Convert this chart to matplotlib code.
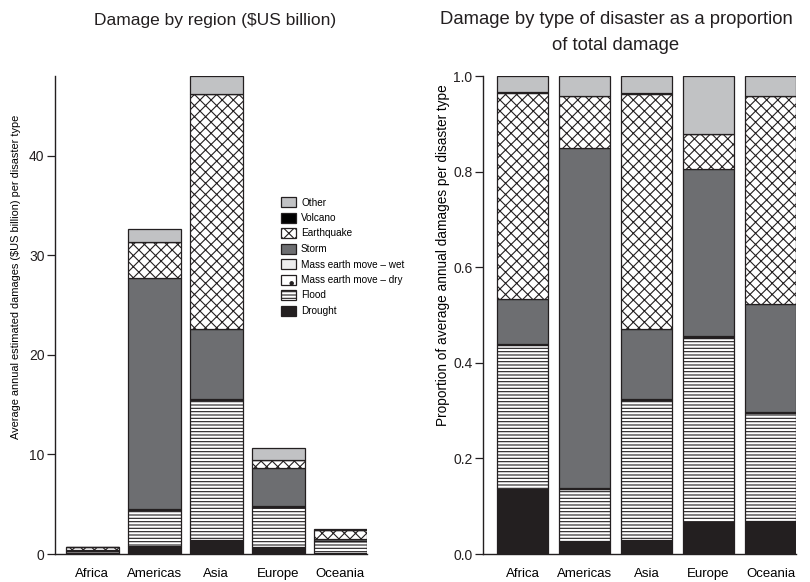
import matplotlib
matplotlib.use("Agg")
import matplotlib.pyplot as plt
import numpy as np

plt.rcParams['font.family'] = ['Liberation Sans', 'DejaVu Sans']
plt.rcParams['hatch.linewidth'] = 0.8

regions = ['Africa', 'Americas', 'Asia', 'Europe', 'Oceania']
types = ['Drought', 'Flood', 'Mass earth move \u2013 dry', 'Mass earth move \u2013 wet',
         'Storm', 'Earthquake', 'Volcano', 'Other']

# Left panel: average annual damages ($US billion)
drought_bn = [0.10, 0.84, 1.41, 0.67, 0.15]
flood_bn = [0.22, 3.60, 14.10, 4.08, 1.15]
massdry_bn = [0.01, 0.02, 0.02, 0.01, 0.01]
masswet_bn = [0.00, 0.05, 0.05, 0.05, 0.00]
storm_bn = [0.07, 23.20, 7.00, 3.80, 0.15]
earthquake_bn = [0.32, 3.60, 23.60, 0.80, 0.99]
volcano_bn = [0.00, 0.00, 0.05, 0.00, 0.00]
other_bn = [0.03, 1.30, 1.77, 1.24, 0.05]

# Right panel: proportion of total damage
drought_p = [0.137, 0.027, 0.029, 0.066, 0.069]
flood_p = [0.300, 0.108, 0.293, 0.386, 0.227]
massdry_p = [0.002, 0.001, 0.001, 0.001, 0.002]
masswet_p = [0.000, 0.002, 0.002, 0.004, 0.000]
storm_p = [0.095, 0.711, 0.146, 0.348, 0.226]
earthquake_p = [0.431, 0.109, 0.492, 0.074, 0.434]
volcano_p = [0.002, 0.000, 0.001, 0.000, 0.000]
other_p = [0.033, 0.042, 0.036, 0.121, 0.042]

left_series = [drought_bn, flood_bn, massdry_bn, masswet_bn, storm_bn,
               earthquake_bn, volcano_bn, other_bn]
right_series = [drought_p, flood_p, massdry_p, masswet_p, storm_p,
                earthquake_p, volcano_p, other_p]

styles = [
    dict(color='#231f20', hatch=None),
    dict(color='white', hatch='-----'),
    dict(color='white', hatch='.'),
    dict(color='#ededee', hatch=None),
    dict(color='#6d6e71', hatch=None),
    dict(color='white', hatch='xxx'),
    dict(color='black', hatch=None),
    dict(color='#c1c2c4', hatch=None),
]

fig = plt.figure(figsize=(8.1, 5.82), dpi=100)
W, H = 810, 582
ax1 = fig.add_axes([55 / W, 1 - 554 / H, (367 - 55) / W, (554 - 76) / H])
ax2 = fig.add_axes([483 / W, 1 - 554 / H, (796 - 483) / W, (554 - 76) / H])

x = np.arange(len(regions))


def draw(ax, series, width):
    bottom = np.zeros(len(regions))
    handles = []
    for vals, st, lab in zip(series, styles, types):
        v = np.array(vals, dtype=float)
        b = ax.bar(x, v, width, bottom=bottom, color=st['color'], hatch=st['hatch'],
                   edgecolor='#231f20', linewidth=0.9, label=lab)
        handles.append(b)
        bottom += v
    return handles


handles = draw(ax1, left_series, 0.855)
draw(ax2, right_series, 0.82)

ax1.set_xlim(-0.6, 4.43)
ax1.set_ylim(0, 48)
ax1.set_yticks([0, 10, 20, 30, 40])
ax2.set_xlim(-0.64, 4.41)
ax2.set_ylim(0, 1.0)
ax2.set_yticks([0.0, 0.2, 0.4, 0.6, 0.8, 1.0])
ax2.set_yticklabels(['0.0', '0.2', '0.4', '0.6', '0.8', '1.0'])

for ax in (ax1, ax2):
    ax.set_xticks(x)
    ax.set_xticklabels(regions, fontsize=9.5)
    ax.tick_params(axis='x', length=0, pad=10)
    ax.tick_params(axis='y', labelsize=10, length=5.5, width=0.9, direction='out', pad=2,
                   colors='#231f20')
    for s in ('top', 'right'):
        ax.spines[s].set_visible(False)
    for s in ('left', 'bottom'):
        ax.spines[s].set_linewidth(1.0)
        ax.spines[s].set_color('#231f20')

ax1.set_ylabel('Average annual estimated damages (\\$US billion) per disaster type',
               fontsize=7.9)
ax1.yaxis.set_label_coords((21 - 55) / 312, (554 - 277) / 478)
ax2.set_ylabel('Proportion of average annual damages per disaster type',
               fontsize=9.8)
ax2.yaxis.set_label_coords((450 - 483) / 313, (554 - 255) / 478)

fig.text(215 / W, 1 - 20 / H, 'Damage by region (\\$US billion)', ha='center', va='center',
         fontsize=12.5, color='#231f20')
fig.text(616 / W, 1 - 20 / H, 'Damage by type of disaster as a proportion',
         ha='center', va='center', fontsize=13.3, color='#231f20')
fig.text(616 / W, 1 - 45 / H, 'of total damage',
         ha='center', va='center', fontsize=13.3, color='#231f20')

leg = ax1.legend(handles[::-1], types[::-1], loc='upper left',
                 bbox_to_anchor=(281 / W, 1 - 197 / H), bbox_transform=fig.transFigure,
                 frameon=False, fontsize=7.2, handlelength=1.5, handleheight=1.2,
                 handletextpad=0.5, labelspacing=0.5, borderpad=0, borderaxespad=0)

fig.savefig('out.png', dpi=100)
